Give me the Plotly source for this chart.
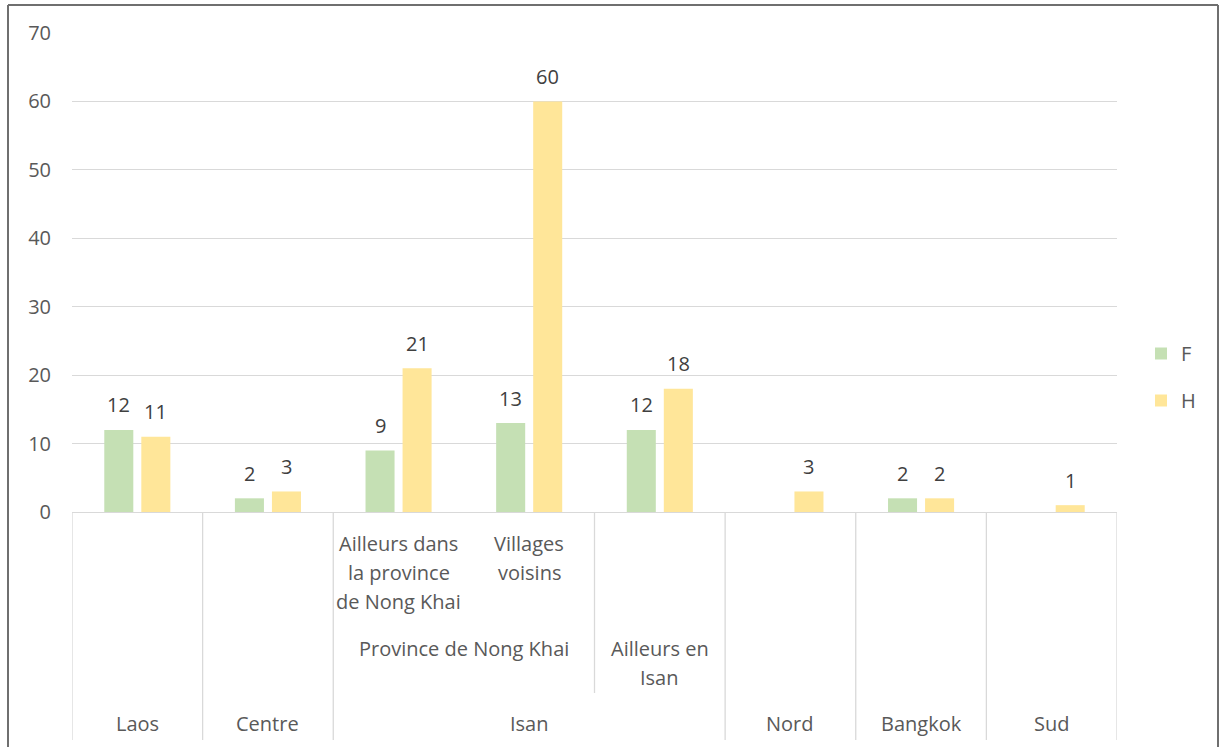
import plotly.graph_objects as go

# ---- data ----
categories = ["Laos", "Centre", "Ailleurs dans la province de Nong Khai",
              "Villages voisins", "Ailleurs en Isan", "Nord", "Bangkok", "Sud"]
f_values = [12, 2, 9, 13, 12, None, 2, None]
h_values = [11, 3, 21, 60, 18, 3, 2, 1]
series_names = ["F", "H"]
series_colors = ["#C5E0B4", "#FFE699"]

# level 1 (leaf) labels per category
level1_labels = ["", "", "Ailleurs dans\nla province\nde Nong Khai", "Villages\nvoisins",
                 "", "", "", ""]
# level 2 groups: (label, first index, last index)
level2_groups = [("Province de Nong Khai", 2, 3), ("Ailleurs en\nIsan", 4, 4)]
# level 3 groups
level3_groups = [("Laos", 0, 0), ("Centre", 1, 1), ("Isan", 2, 4),
                 ("Nord", 5, 5), ("Bangkok", 6, 6), ("Sud", 7, 7)]

y_ticks = [0, 10, 20, 30, 40, 50, 60, 70]

# ---- layout constants (page pixels) ----
W, H = 1220, 747
PLOT_L, PLOT_R, PLOT_T, PLOT_B = 72, 1117, 33, 512
ML, MR, MT, MB = PLOT_L, W - PLOT_R, PLOT_T, H - PLOT_B
plot_h = PLOT_B - PLOT_T
plot_w = PLOT_R - PLOT_L
FONT = "Open Sans"
FS = 20
LINE = 29
GRID = "#D9D9D9"
TXT = "#595959"
bargap = 0.433
bargroupgap = 0.216

def py(px):  # page pixel y -> paper y
    return (PLOT_B - px) / plot_h

def pxp(px):  # page pixel x -> paper x
    return (px - PLOT_L) / plot_w

x = list(range(len(categories)))
fig = go.Figure()
for name, vals, col in zip(series_names, [f_values, h_values], series_colors):
    fig.add_trace(go.Bar(x=x, y=vals, name=name, marker_color=col,
                         marker_line_width=0, legendgroup=name, hoverinfo="skip"))

annotations = []
# data labels
slot = (1 - bargap) / 2
for si, vals in enumerate([f_values, h_values]):
    off = (si - 0.5) * slot
    for i, v in enumerate(vals):
        if v is None:
            continue
        annotations.append(dict(x=i + off, y=v, xref="x", yref="y", text=str(v),
                                showarrow=False, yanchor="middle", yshift=25,
                                font=dict(family=FONT, size=FS, color="#404040")))

def add_label(text, x0, x1, top_px):
    for k, line in enumerate(text.split("\n")):
        annotations.append(dict(x=(x0 + x1) / 2, y=py(top_px + k * LINE), xref="x",
                                yref="paper", text=line, showarrow=False,
                                yanchor="middle", xanchor="center",
                                font=dict(family=FONT, size=FS, color=TXT)))

for i, lab in enumerate(level1_labels):
    if lab:
        add_label(lab, i, i, 543)
for lab, a, b in level2_groups:
    add_label(lab, a, b, 648)
for lab, a, b in level3_groups:
    add_label(lab, a, b, 723)

shapes = []
y_bottom = py(740)
y_l2 = py(693)
# level-3 boundaries (full height)
bounds3 = sorted({a - 0.5 for _, a, _ in level3_groups} | {b + 0.5 for _, _, b in level3_groups})
for bx in bounds3:
    shapes.append(dict(type="line", xref="x", yref="paper", x0=bx, x1=bx, y0=0, y1=y_bottom,
                       line=dict(color=GRID, width=1.3)))
# level-2 boundaries inside groups
for lab, a, b in level3_groups:
    inner = sorted({g[1] - 0.5 for g in level2_groups if a <= g[1] <= b} |
                   {g[2] + 0.5 for g in level2_groups if a <= g[2] <= b})
    for bx in inner:
        if a - 0.5 < bx < b + 0.5:
            shapes.append(dict(type="line", xref="x", yref="paper", x0=bx, x1=bx,
                               y0=0, y1=y_l2, line=dict(color=GRID, width=1.3)))

# chart border
bl, br, bt = pxp(8), pxp(1218), py(5)
for (x0, y0, x1, y1) in [(bl, -1, bl, bt), (bl, bt, br, bt), (br, bt, br, -1)]:
    shapes.append(dict(type="line", xref="paper", yref="paper", x0=x0, y0=y0, x1=x1, y1=y1,
                       line=dict(color="#6F6F6F", width=2)))

fig.update_layout(
    width=W, height=H,
    margin=dict(l=ML, r=MR, t=MT, b=MB, pad=0),
    paper_bgcolor="white", plot_bgcolor="white",
    barmode="group", bargap=bargap, bargroupgap=bargroupgap,
    font=dict(family=FONT, size=FS, color=TXT),
    xaxis=dict(range=[-0.5, len(categories) - 0.5], showticklabels=False, showgrid=False,
               zeroline=False, showline=True, linecolor=GRID, linewidth=1.3, ticks=""),
    yaxis=dict(range=[0, 70], tickvals=y_ticks, showgrid=True, gridcolor=GRID, gridwidth=1.3,
               zeroline=False, showline=False, ticks="", ticklabelstandoff=20,
               tickfont=dict(family=FONT, size=FS, color=TXT)),
    legend=dict(x=pxp(1141), y=py(377), xanchor="left", yanchor="middle",
                traceorder="grouped", tracegroupgap=18, itemwidth=30,
                font=dict(family=FONT, size=FS, color=TXT)),
    annotations=annotations, shapes=shapes,
)
fig.write_html("out.html", config={"displayModeBar": False},
               post_script="document.body.style.margin='0';document.body.style.overflow='hidden';")
